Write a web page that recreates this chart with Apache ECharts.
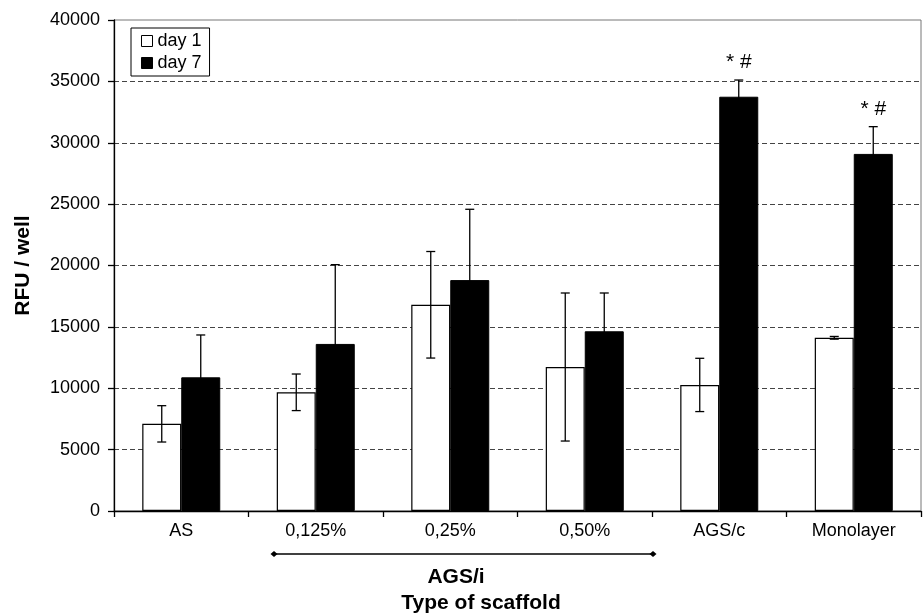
<!DOCTYPE html>
<html>
<head>
<meta charset="utf-8">
<script src="https://cdn.jsdelivr.net/npm/echarts@6/dist/echarts.min.js"></script>
<style>html,body{margin:0;padding:0;background:#fff}#c{width:923px;height:615px}</style>
</head>
<body>
<div id="c"></div>
<script>
var categories = ['AS', '0,125%', '0,25%', '0,50%', 'AGS/c', 'Monolayer'];
var day1 = [7100, 9670, 16800, 11730, 10270, 14110];
var day1Err = [1480, 1490, 4340, 6030, 2170, 110];
var day7 = [10890, 13610, 18810, 14640, 33750, 29090];
var day7Err = [3450, 6460, 5770, 3120, 1360, 2220];
var day7Notes = ['', '', '', '', '* #', '* #'];
var yTicks = {min: 0, max: 40000, interval: 5000};

var FONT = "'Liberation Sans', Arial, sans-serif";
var BAR_W = 39;

function errSeries(name, vals, errs, offset, notes) {
  return {
    type: 'custom',
    name: name + ' err',
    z: 5,
    silent: true,
    data: vals.map(function (v, i) { return [i, v, errs[i]]; }),
    renderItem: function (params, api) {
      var i = api.value(0), v = api.value(1), e = api.value(2);
      var note = notes ? notes[i] : '';
      var top = api.coord([i, v + e]);
      var bot = api.coord([i, v - e]);
      var x = top[0] + offset;
      var cap = 4.5;
      var style = {stroke: '#000', lineWidth: 1.3};
      var children = [
        {type: 'line', shape: {x1: x, y1: top[1], x2: x, y2: bot[1]}, style: style},
        {type: 'line', shape: {x1: x - cap, y1: top[1], x2: x + cap, y2: top[1]}, style: style},
        {type: 'line', shape: {x1: x - cap, y1: bot[1], x2: x + cap, y2: bot[1]}, style: style}
      ];
      if (note) {
        children.push({type: 'text', style: {x: x, y: top[1] - 7, text: note, fill: '#000',
          font: '21px ' + FONT, textAlign: 'center', textVerticalAlign: 'bottom'}});
      }
      return {type: 'group', children: children};
    }
  };
}

var chart = echarts.init(document.getElementById('c'), null, {renderer: 'canvas'});
chart.setOption({
  animation: false,
  backgroundColor: '#fff',
  textStyle: {fontFamily: FONT},
  grid: {left: 114, right: 2, top: 20, bottom: 104, show: true, borderColor: '#777', borderWidth: 1},
  legend: {
    left: 131, top: 28, orient: 'vertical',
    borderColor: '#000', borderWidth: 1, padding: [4, 8, 4, 10],
    itemWidth: 11, itemHeight: 11, itemGap: 4,
    textStyle: {fontSize: 18, color: '#000', fontFamily: FONT},
    data: [
      {name: 'day 1', icon: 'rect', itemStyle: {color: '#fff', borderColor: '#000', borderWidth: 1}},
      {name: 'day 7', icon: 'rect', itemStyle: {color: '#000', borderColor: '#000', borderWidth: 1}}
    ]
  },
  xAxis: {
    type: 'category', data: categories, boundaryGap: true,
    axisLine: {lineStyle: {color: '#000', width: 1.3}},
    axisTick: {show: true, length: 6, lineStyle: {color: '#000', width: 1.3}},
    axisLabel: {fontSize: 18, color: '#000', margin: 11, fontFamily: FONT},
    splitLine: {show: false}
  },
  yAxis: {
    type: 'value', min: yTicks.min, max: yTicks.max, interval: yTicks.interval,
    name: 'RFU / well', nameLocation: 'middle', nameGap: 80,
    nameTextStyle: {fontSize: 21, fontWeight: 'bold', color: '#000', fontFamily: FONT},
    axisLine: {show: true, lineStyle: {color: '#000', width: 1.3}},
    axisTick: {show: true, length: 6, lineStyle: {color: '#000', width: 1.3}},
    axisLabel: {fontSize: 18, color: '#000', margin: 14, fontFamily: FONT,
      formatter: function (v) { return String(v); }},
    splitLine: {show: true, showMinLine: false, showMaxLine: false, lineStyle: {color: '#444', type: [5, 3], width: 1}}
  },
  graphic: [
    {type: 'line', shape: {x1: 274, y1: 554, x2: 653, y2: 554}, style: {stroke: '#000', lineWidth: 1.3}},
    {type: 'polygon', shape: {points: [[270.5, 554], [274, 551], [277.5, 554], [274, 557]]}, style: {fill: '#000'}},
    {type: 'polygon', shape: {points: [[649.5, 554], [653, 551], [656.5, 554], [653, 557]]}, style: {fill: '#000'}},
    {type: 'text', x: 456, y: 577, style: {text: 'AGS/i', font: 'bold 21px ' + FONT, fill: '#000', textAlign: 'center', textVerticalAlign: 'middle'}},
    {type: 'text', x: 481, y: 603, style: {text: 'Type of scaffold', font: 'bold 21px ' + FONT, fill: '#000', textAlign: 'center', textVerticalAlign: 'middle'}}
  ],
  series: [
    {name: 'day 1', type: 'bar', data: day1, barWidth: BAR_W, barGap: '0%',
      itemStyle: {color: '#fff', borderColor: '#000', borderWidth: 1.2}},
    {name: 'day 7', type: 'bar', data: day7, barWidth: BAR_W, barGap: '0%',
      itemStyle: {color: '#000', borderColor: '#000', borderWidth: 1}},
    errSeries('day 1', day1, day1Err, -BAR_W / 2, null),
    errSeries('day 7', day7, day7Err, BAR_W / 2, day7Notes)
  ]
});
</script>
</body>
</html>
